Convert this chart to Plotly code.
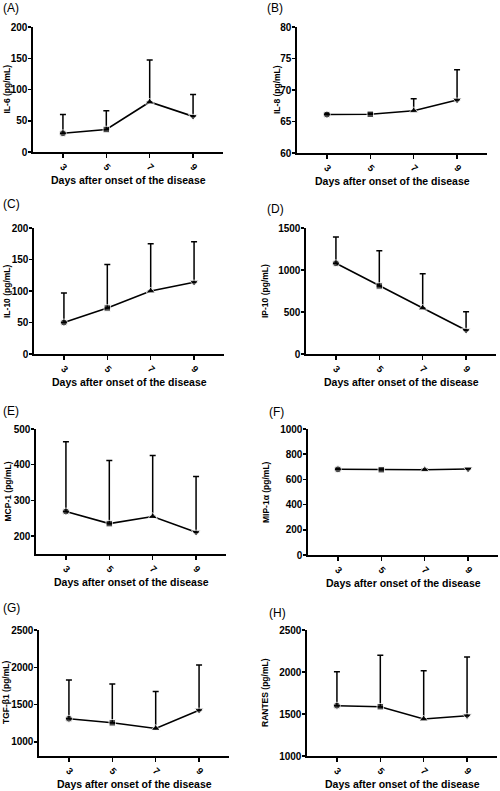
import plotly.graph_objects as go

W, H = 500, 791

# ---------------- data ----------------
days = [3, 5, 7, 9]
day_labels = ["3", "5", "7", "9"]
x_title = "Days after onset of the disease"

il6_mean = [30, 36, 80, 57]
il6_upper = [60, 66, 147, 92]

il8_mean = [66.1, 66.15, 66.7, 68.4]
il8_upper = [66.3, 66.3, 68.6, 73.2]

il10_mean = [50, 73, 100, 114]
il10_upper = [97, 142, 175, 178]

ip10_mean = [1080, 810, 548, 282]
ip10_upper = [1393, 1230, 956, 504]

mcp1_mean = [269, 235, 255, 211]
mcp1_upper = [464, 412, 426, 367]

mip1a_mean = [680, 677, 677, 682]
mip1a_upper = [686, 683, 683, 688]

tgfb1_mean = [1310, 1255, 1179, 1425]
tgfb1_upper = [1828, 1775, 1676, 2030]

rantes_mean = [1599, 1587, 1440, 1480]
rantes_upper = [2004, 2198, 2016, 2180]

panel_labels = ["(A)", "(B)", "(C)", "(D)", "(E)", "(F)", "(G)", "(H)"]
y_titles = ["IL-6 (pg/mL)", "IL-8 (pg/mL)", "IL-10 (pg/mL)", "IP-10 (pg/mL)",
            "MCP-1 (pg/mL)", "MIP-1\u03b1 (pg/mL)", "TGF-\u03b21 (pg/mL)", "RANTES (pg/mL)"]
means = [il6_mean, il8_mean, il10_mean, ip10_mean, mcp1_mean, mip1a_mean, tgfb1_mean, rantes_mean]
uppers = [il6_upper, il8_upper, il10_upper, ip10_upper, mcp1_upper, mip1a_upper, tgfb1_upper, rantes_upper]
y_ranges = [[0, 200], [60, 80], [0, 200], [0, 1500], [150, 500], [0, 1000], [810, 2500], [1000, 2500]]
y_ticks = [[0, 50, 100, 150, 200], [60, 65, 70, 75, 80], [0, 50, 100, 150, 200],
           [0, 500, 1000, 1500], [200, 300, 400, 500], [0, 200, 400, 600, 800, 1000],
           [1000, 1500, 2000, 2500], [1000, 1500, 2000, 2500]]

# ---------------- layout geometry (pixels) ----------------
# (x_left, x_right, y_top, y_bottom) of each plot area
boxes = [(33, 223, 27, 152), (297, 487, 27, 153),
         (34, 224, 228, 354), (306, 496, 228, 354),
         (36, 226, 429, 554), (308, 498, 429, 555),
         (39, 229, 630, 756), (307, 497, 630, 756)]
label_pos = [(1, 8), (265, 8), (1, 204), (265, 209), (1, 411), (267, 412), (1, 608), (267, 613)]
ytitle_x = [7, 277, 7, 265, 7, 266, 6, 265]

symbols = ["circle", "square", "triangle-up", "triangle-down"]
sizes = [7, 6.5, 8, 8]
FONT = "Arial, Liberation Sans, sans-serif"


def px_x(v):
    return v / W


def px_y(v):
    return 1 - v / H


fig = go.Figure()
annotations = []
layout = {}

for i in range(8):
    n = i + 1
    xa = "x" if n == 1 else f"x{n}"
    ya = "y" if n == 1 else f"y{n}"
    m = means[i]
    u = uppers[i]
    fig.add_trace(go.Scatter(
        x=days, y=m, xaxis=xa, yaxis=ya, mode="lines+markers",
        line=dict(color="black", width=1.6),
        marker=dict(symbol=symbols, size=sizes, color="black"),
        error_y=dict(type="data", symmetric=False,
                     array=[uu - mm for uu, mm in zip(u, m)],
                     arrayminus=[0] * len(m),
                     color="black", thickness=1.5, width=3),
        showlegend=False, cliponaxis=False, hoverinfo="skip",
    ))
    x0, x1, y0, y1 = boxes[i]
    key_x = "xaxis" if n == 1 else f"xaxis{n}"
    key_y = "yaxis" if n == 1 else f"yaxis{n}"
    layout[key_x] = dict(
        domain=[px_x(x0), px_x(x1)], anchor=ya, range=[1.62, 10.38],
        automargin=False,
        tickvals=days, ticktext=day_labels, tickangle=45,
        ticks="outside", ticklen=4, tickwidth=1.5, tickcolor="black",
        showline=True, linecolor="black", linewidth=1.6,
        showgrid=False, zeroline=False,
        tickfont=dict(family=FONT, size=9.5, color="black", weight="bold"),
    )
    layout[key_y] = dict(
        domain=[px_y(y1), px_y(y0)], anchor=xa, range=y_ranges[i],
        automargin=False,
        tickvals=y_ticks[i],
        ticks="outside", ticklen=3, tickwidth=1.5, tickcolor="black",
        ticklabelstandoff=-1,
        showline=True, linecolor="black", linewidth=1.6,
        showgrid=False, zeroline=False,
        tickfont=dict(family=FONT, size=10, color="black", weight="bold"),
    )
    # x title
    annotations.append(dict(
        text=x_title, xref="paper", yref="paper",
        x=px_x((x0 + x1) / 2), y=px_y(y1 + 28), xanchor="center", yanchor="middle",
        showarrow=False, font=dict(family=FONT, size=10.5, color="black", weight="bold"),
    ))
    # y title
    annotations.append(dict(
        text=y_titles[i], xref="paper", yref="paper", textangle=-90,
        x=px_x(ytitle_x[i]), y=px_y((y0 + y1) / 2), xanchor="center", yanchor="middle",
        showarrow=False, font=dict(family=FONT, size=8.5, color="black", weight="bold"),
    ))
    # panel label
    lx, ly = label_pos[i]
    annotations.append(dict(
        text=panel_labels[i], xref="paper", yref="paper",
        x=px_x(lx), y=px_y(ly), xanchor="left", yanchor="middle",
        showarrow=False, font=dict(family=FONT, size=12, color="black"),
    ))

fig.update_layout(
    template="none",
    width=W, height=H, margin=dict(l=0, r=0, t=0, b=0, autoexpand=False),
    paper_bgcolor="white", plot_bgcolor="white",
    hovermode=False,
    annotations=annotations, **layout,
)

fig.write_html(
    "out.html",
    config={"displayModeBar": False, "staticPlot": True},
    post_script="document.body.style.margin='0';document.body.style.padding='0';",
)
